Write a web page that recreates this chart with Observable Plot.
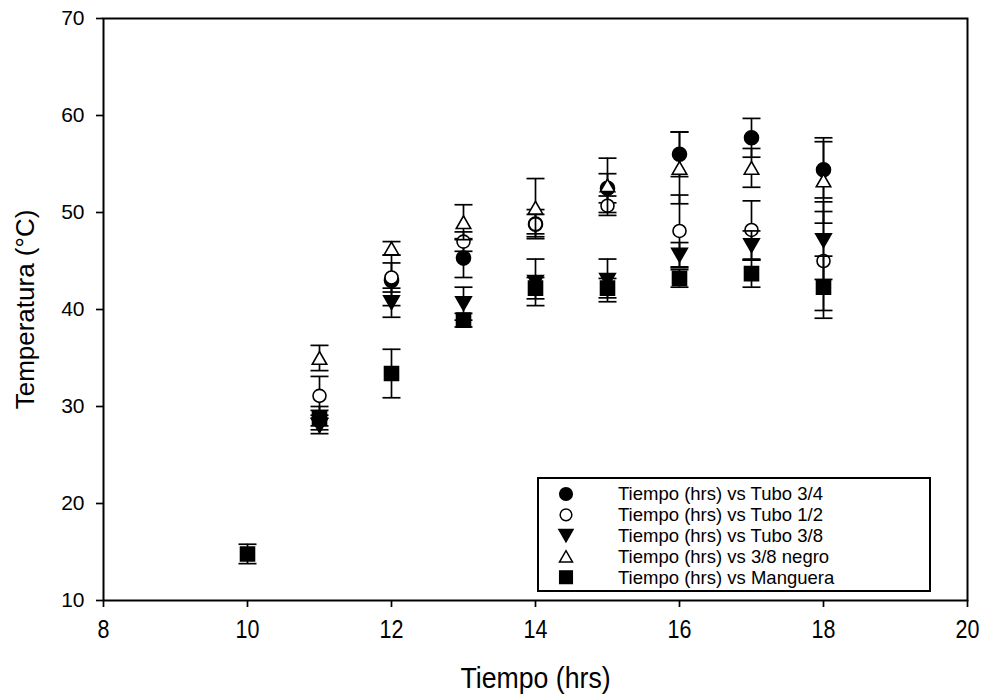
<!DOCTYPE html>
<html><head><meta charset="utf-8">
<script src="https://cdn.jsdelivr.net/npm/d3@7"></script>
<script src="https://cdn.jsdelivr.net/npm/@observablehq/plot@0.6"></script>
<style>body{margin:0;background:#fff;}</style>
</head><body><div id="chart"></div>
<script>
// ---- data ----
const hours = [10, 11, 12, 13, 14, 15, 16, 17, 18];
const tubo34     = [null, 28.8, 43.0, 45.3, 48.8, 52.5, 56.0, 57.7, 54.4];
const tubo34Err  = [null, 0.8, 2.6, 2.0, 1.0, 1.5, 2.3, 2.0, 2.9];
const tubo12     = [null, 31.1, 43.3, 47.0, 48.8, 50.7, 48.1, 48.2, 45.0];
const tubo12Err  = [null, 2.0, 1.5, 1.0, 1.5, 1.0, 3.7, 3.0, 5.1];
const tubo38     = [null, 28.0, 40.7, 40.6, 42.8, 43.0, 45.6, 46.6, 47.1];
const tubo38Err  = [null, 0.8, 1.5, 1.7, 2.4, 2.2, 1.3, 1.5, 4.0];
const negro38    = [null, 35.0, 46.3, 49.0, 50.5, 52.8, 54.6, 54.6, 53.3];
const negro38Err = [null, 1.3, 0.7, 1.8, 3.0, 2.8, 3.7, 2.0, 4.4];
const manguera    = [14.8, 28.8, 33.4, 38.9, 42.2, 42.2, 43.2, 43.7, 42.3];
const mangueraErr = [1.0, 1.2, 2.5, 0.7, 1.1, 1.0, 0.9, 1.4, 3.2];
const seriesNames = [
  "Tiempo (hrs) vs Tubo 3/4",
  "Tiempo (hrs) vs Tubo 1/2",
  "Tiempo (hrs) vs Tubo 3/8",
  "Tiempo (hrs) vs 3/8 negro",
  "Tiempo (hrs) vs Manguera"
];
const xTicks = [8, 10, 12, 14, 16, 18, 20];
const yTicks = [10, 20, 30, 40, 50, 60, 70];
const xLabel = "Tiempo (hrs)";
const yLabel = "Temperatura (°C)";

// ---- symbols ----
const sq = {draw(ctx, size) { const r = Math.sqrt(size / Math.PI); ctx.rect(-r, -r, 2 * r, 2 * r); }};
const triDown = {draw(ctx, size) { const r = Math.sqrt(size / Math.PI); const w = r * 1.15, h = r; ctx.moveTo(-w, -h); ctx.lineTo(w, -h); ctx.lineTo(0, h); ctx.closePath(); }};
const triUp = {draw(ctx, size) { const r = Math.sqrt(size / Math.PI); const w = r * 1.15, h = r; ctx.moveTo(-w, h); ctx.lineTo(w, h); ctx.lineTo(0, -h); ctx.closePath(); }};
const cap = {draw(ctx, size) { const r = Math.sqrt(size / Math.PI); ctx.moveTo(-r, 0); ctx.lineTo(r, 0); }};

const styles = [
  {symbol: d3.symbolCircle, fill: "black", r: 7},
  {symbol: d3.symbolCircle, fill: "white", r: 6.5},
  {symbol: triDown, fill: "black", r: 6.8},
  {symbol: triUp, fill: "white", r: 6.3},
  {symbol: sq, fill: "black", r: 7}
];

const means = [tubo34, tubo12, tubo38, negro38, manguera];
const errs = [tubo34Err, tubo12Err, tubo38Err, negro38Err, mangueraErr];
const seriesRows = means.map((m, s) => hours.map((h, i) => ({
  series: seriesNames[s], x: h, y: m[i], lo: m[i] == null ? null : m[i] - errs[s][i], hi: m[i] == null ? null : m[i] + errs[s][i]
})).filter(d => d.y != null));

const marks = [];
seriesRows.forEach((rows, s) => {
  const st = styles[s];
  marks.push(Plot.ruleX(rows, {x: "x", y1: "lo", y2: "hi", stroke: "black", strokeWidth: 1.7}));
  marks.push(Plot.dot(rows, {x: "x", y: "hi", symbol: cap, r: 9, stroke: "black", strokeWidth: 1.7, fill: "none"}));
  marks.push(Plot.dot(rows, {x: "x", y: "lo", symbol: cap, r: 9, stroke: "black", strokeWidth: 1.7, fill: "none"}));
  marks.push(Plot.dot(rows, {x: "x", y: "y", symbol: st.symbol, r: st.r, fill: st.fill, stroke: "black", strokeWidth: 1.6}));
});

const svg = Plot.plot({
  width: 984, height: 696,
  marginLeft: 103, marginRight: 17, marginTop: 18, marginBottom: 96,
  style: {fontFamily: "'Liberation Sans', Arial, sans-serif", fontSize: "20px", color: "black", background: "white"},
  x: {domain: [8, 20]},
  y: {domain: [10, 70]},
  marks: [
    ...marks,
    Plot.frame({stroke: "black", strokeWidth: 2}),
    Plot.axisX({ticks: xTicks, tickSize: 7, tickPadding: 13, strokeWidth: 1.7, label: null, fontSize: 25, className: "xax"}),
    Plot.axisY({ticks: yTicks, tickSize: 7, tickPadding: 12, strokeWidth: 1.7, label: null, fontSize: 21}),
    Plot.text([xLabel], {frameAnchor: "bottom", dy: 87, fontSize: 29, fill: "black", className: "xlab"}),
    Plot.text([yLabel], {frameAnchor: "left", dx: -78, rotate: -90, textAnchor: "middle", fontSize: 26, fill: "black"})
  ]
});
document.getElementById("chart").appendChild(svg);

// condensed look of the x-axis text (as in the reference)
d3.select(svg).selectAll("g.xax text").each(function() {
  const t = this.getAttribute("transform") || "";
  this.setAttribute("transform", t + " scale(0.86,1)");
});
d3.select(svg).selectAll("g.xlab text").each(function() {
  const t = this.getAttribute("transform") || "";
  this.setAttribute("transform", t + " scale(0.92,1)");
});

// ---- legend (inside plot area, lower right) ----
const lg = d3.select(svg).append("g").attr("font-family", "'Liberation Sans', Arial, sans-serif").attr("font-size", 18.5);
const boxX = 538, boxY = 478, boxW = 392, boxH = 113, rowY0 = 494, rowDy = 20.8;
lg.append("rect").attr("x", boxX).attr("y", boxY).attr("width", boxW).attr("height", boxH)
  .attr("fill", "white").attr("stroke", "black").attr("stroke-width", 2);
seriesNames.forEach((name, s) => {
  const st = styles[s];
  const y = rowY0 + s * rowDy;
  const r = st.r * 0.9;
  lg.append("path").attr("transform", `translate(566,${y})`)
    .attr("d", d3.symbol(st.symbol, r * r * Math.PI)())
    .attr("fill", st.fill).attr("stroke", "black").attr("stroke-width", 1.5);
  lg.append("text").attr("x", 618).attr("y", y).attr("dy", "0.35em").attr("text-anchor", "start").attr("fill", "black").text(name);
});
</script>
</body></html>
